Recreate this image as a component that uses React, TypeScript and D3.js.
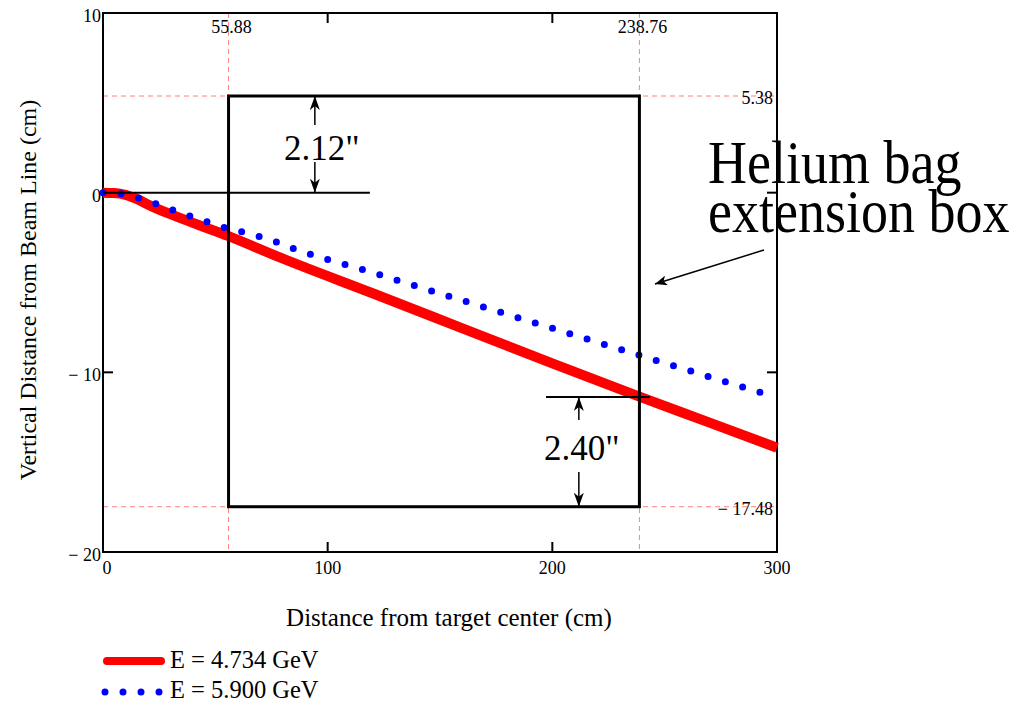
import React from 'react';
import * as d3 from 'd3';

// trajectory, E = 4.734 GeV (cm)
const redX = [0, 5, 10, 15, 21, 30, 40, 55.88, 79, 120, 160, 200, 238.76, 270, 300];
const redY = [0, -0.02, -0.12, -0.35, -0.72, -1.2, -1.68, -2.42, -3.62, -5.6, -7.55, -9.5, -11.35, -12.8, -14.2];

// trajectory, E = 5.900 GeV (cm)
const blueX = [0, 8, 15.4, 23, 30.7, 38.3, 46, 53.8, 61.4, 76.9, 84.6, 120, 160, 200, 238.76, 292.4];
const blueY = [0, -0.06, -0.28, -0.6, -0.95, -1.28, -1.6, -1.93, -2.17, -2.73, -3.1, -4.45, -6.0, -7.55, -9.05, -11.11];

const xTickValues = [0, 100, 200, 300];
const yTickValues = [10, 0, -10, -20];
const yTickLabels = ['10', '0', '\u2212 10', '\u2212 20'];

// helium bag box corners and marker lines
const boxX = [55.88, 238.76];
const boxY = [5.38, -17.48];
const markerXLabels = ['55.88', '238.76'];
const markerYLabels = ['5.38', '\u2212 17.48'];

// dimension annotations
const dimLabels = ['2.12"', '2.40"'];
const dimX = [94.3, 211.8];
const dimTop = [5.38, -11.37];
const dimBottom = [0, -17.48];
const refLineY = [0, -11.37];
const refLineX0 = [0, 197.2];
const refLineX1 = [118.8, 243.4];

const legendLabels = ['E = 4.734 GeV', 'E = 5.900 GeV'];

const W = 1030;
const H = 704;
const font = '"Liberation Serif", "Times New Roman", serif';

const App = () => {
  const x = d3.scaleLinear().domain([0, 300]).range([103, 777]);
  const y = d3.scaleLinear().domain([-20, 10]).range([552, 13]);
  const [x0, x1] = x.range();
  const [y0, y1] = y.range();

  const line = d3.line<[number, number]>()
    .x(d => x(d[0]))
    .y(d => y(d[1]))
    .curve(d3.curveMonotoneX);

  const redPath = line(redX.map((v, i) => [v, redY[i]]) as [number, number][]) || '';
  const bluePath = line(blueX.map((v, i) => [v, blueY[i]]) as [number, number][]) || '';

  const dimGaps = [[-23, 14], [-28, 24]];
  const dimCenters = [148, 448];
  const dimDx = [7, 3];

  return (
    <div style={{ position: 'absolute', left: 0, top: 0 }}>
      <svg width={W} height={H} style={{ display: 'block' }} fontFamily={font}>
        <defs>
          <marker id="arr" viewBox="0 0 14 10" refX="14" refY="5" markerWidth="14" markerHeight="10"
            markerUnits="userSpaceOnUse" orient="auto">
            <path d="M0,0 L14,5 L0,10 L4,5 Z" fill="#000" />
          </marker>
          <marker id="arrSmall" viewBox="0 0 12 10" refX="12" refY="5" markerWidth="12" markerHeight="10"
            markerUnits="userSpaceOnUse" orient="auto">
            <path d="M0,0 L12,5 L0,10 L3,5 Z" fill="#000" />
          </marker>
        </defs>
        <rect x={0} y={0} width={W} height={H} fill="#fff" />

        {/* red dashed marker lines */}
        {boxX.map(v => (
          <line key={'mx' + v} x1={x(v)} x2={x(v)} y1={y1} y2={y0}
            stroke="#ff8080" strokeWidth={1} strokeDasharray="5,4" />
        ))}
        {boxY.map(v => (
          <line key={'my' + v} x1={x0} x2={x1} y1={y(v)} y2={y(v)}
            stroke="#ff8080" strokeWidth={1} strokeDasharray="5,4" />
        ))}

        {/* frame */}
        <rect x={x0} y={y1} width={x1 - x0} height={y0 - y1} fill="none" stroke="#000" strokeWidth={2} />

        {/* ticks */}
        {xTickValues.slice(1, -1).map(v => (
          <g key={'xt' + v}>
            <line x1={x(v)} x2={x(v)} y1={y0} y2={y0 - 10} stroke="#000" strokeWidth={2} />
            <line x1={x(v)} x2={x(v)} y1={y1} y2={y1 + 10} stroke="#000" strokeWidth={2} />
          </g>
        ))}
        {yTickValues.slice(1, -1).map(v => (
          <g key={'yt' + v}>
            <line x1={x0} x2={x0 + 10} y1={y(v)} y2={y(v)} stroke="#000" strokeWidth={2} />
            <line x1={x1} x2={x1 - 10} y1={y(v)} y2={y(v)} stroke="#000" strokeWidth={2} />
          </g>
        ))}
        {xTickValues.map(v => (
          <text key={'xl' + v} x={x(v) + (v === 0 ? 4 : 0)} y={y0 + 22} fontSize={18} textAnchor="middle">{v}</text>
        ))}
        {yTickValues.map((v, i) => (
          <text key={'yl' + v} x={x0 - 2} y={y(v) + 9} fontSize={18} textAnchor="end">{yTickLabels[i]}</text>
        ))}

        {/* marker value labels */}
        {boxX.map((v, i) => (
          <text key={'mxl' + v} x={x(v) + 3} y={33} fontSize={18} textAnchor="middle">{markerXLabels[i]}</text>
        ))}
        {boxY.map((v, i) => (
          <text key={'myl' + v} x={x1 - 4} y={y(v) + 8} fontSize={18} textAnchor="end">{markerYLabels[i]}</text>
        ))}

        {/* curves */}
        <path d={redPath} fill="none" stroke="#ff0000" strokeWidth={10} strokeLinecap="butt" />
        <path d={bluePath} fill="none" stroke="#0000ff" strokeWidth={7} strokeLinecap="round"
          pathLength={38} strokeDasharray="0 1" />

        {/* helium bag box */}
        <rect x={x(boxX[0])} y={y(boxY[0])} width={x(boxX[1]) - x(boxX[0])} height={y(boxY[1]) - y(boxY[0])}
          fill="none" stroke="#000" strokeWidth={3} />

        {/* reference lines */}
        {refLineY.map((v, i) => (
          <line key={'rl' + i} x1={x(refLineX0[i])} x2={x(refLineX1[i])} y1={y(v)} y2={y(v)}
            stroke="#000" strokeWidth={2} />
        ))}

        {/* dimension arrows */}
        {dimLabels.map((lab, i) => {
          const cx = x(dimX[i]);
          const c = dimCenters[i];
          return (
            <g key={'dim' + i}>
              <line x1={cx} x2={cx} y1={c + dimGaps[i][0]} y2={y(dimTop[i])} stroke="#000" strokeWidth={1.5}
                markerEnd="url(#arr)" />
              <line x1={cx} x2={cx} y1={c + dimGaps[i][1]} y2={y(dimBottom[i])} stroke="#000" strokeWidth={1.5}
                markerEnd="url(#arr)" />
              <text x={cx + dimDx[i]} y={c + 12} fontSize={35} textAnchor="middle">{lab}</text>
            </g>
          );
        })}

        {/* helium bag note */}
        <g transform="translate(708,183) scale(1,1.14)">
          <text x={0} y={0} fontSize={54}>Helium bag</text>
        </g>
        <g transform="translate(708,232) scale(1,1.14)">
          <text x={0} y={0} fontSize={54}>extension box</text>
        </g>
        <line x1={764} y1={250} x2={655} y2={284} stroke="#000" strokeWidth={1.5} markerEnd="url(#arrSmall)" />

        {/* axis titles */}
        <text x={449} y={626} fontSize={25} textAnchor="middle">Distance from target center (cm)</text>
        <text transform="translate(36,290) rotate(-90)" fontSize={24} textAnchor="middle">
          Vertical Distance from Beam Line (cm)
        </text>

        {/* legend */}
        <line x1={107} x2={161} y1={661} y2={661} stroke="#ff0000" strokeWidth={8} strokeLinecap="round" />
        <text x={170} y={668} fontSize={24.5}>{legendLabels[0]}</text>
        <line x1={105} x2={160} y1={692} y2={692} stroke="#0000ff" strokeWidth={7} strokeLinecap="round"
          strokeDasharray="0,18" />
        <text x={170} y={698} fontSize={24.5}>{legendLabels[1]}</text>
      </svg>
    </div>
  );
};

export default App;
